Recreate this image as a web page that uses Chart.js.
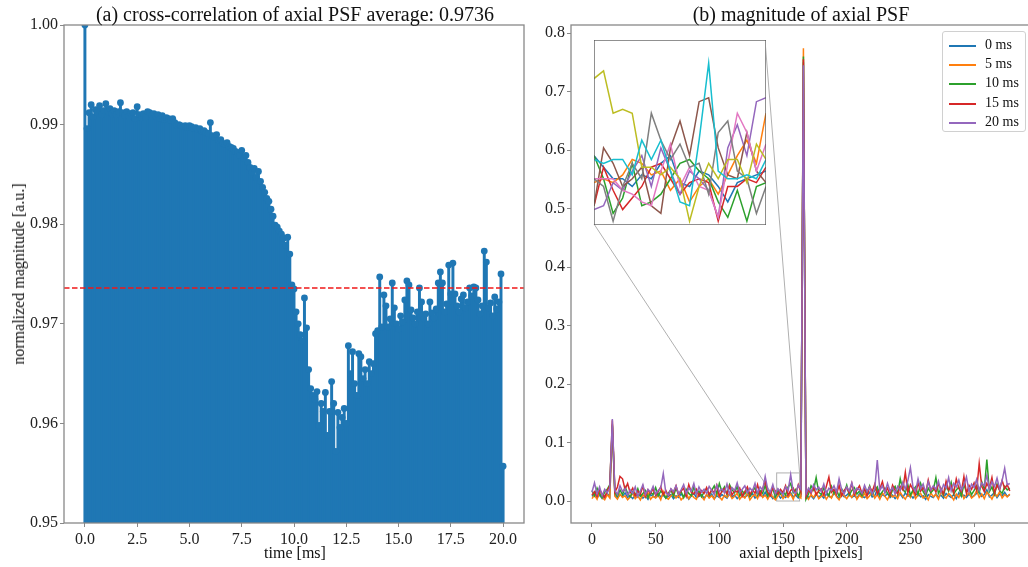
<!DOCTYPE html>
<html>
<head>
<meta charset="utf-8">
<script src="https://cdn.jsdelivr.net/npm/chart.js@4.4.1/dist/chart.umd.min.js"></script>
<style>
  body { margin: 0; width: 1028px; height: 567px; overflow: hidden; position: relative; background: #fff; font-family: 'Liberation Serif', serif; color: #111; }
  canvas { position: absolute; }
  .txt { position: absolute; white-space: nowrap; transform: translate(-50%, -50%); }
  #legend { position: absolute; left: 942px; top: 31px; width: 82px; height: 99px; border: 1px solid #d0d0d0; border-radius: 3px; background: rgba(255,255,255,0.85); font-size: 14px; }
  .leg-row { position: absolute; left: 0; height: 19px; width: 82px; }
  .leg-line { position: absolute; left: 6px; top: 9px; width: 27px; height: 2px; }
  .leg-text { position: absolute; left: 42px; top: 1px; }
</style>
</head>
<body>
<canvas id="xcorrChart" width="528" height="567" style="left:0;top:0"></canvas>
<canvas id="psfChart" width="528" height="567" style="left:512px;top:0"></canvas>
<canvas id="insetChart" width="172" height="185" style="left:594px;top:40px"></canvas>
<div class="txt" style="left:295px;top:14px;font-size:20px">(a) cross-correlation of axial PSF average: 0.9736</div>
<div class="txt" style="left:801px;top:14px;font-size:20px">(b) magnitude of axial PSF</div>
<div class="txt" style="left:295px;top:553px;font-size:16px">time [ms]</div>
<div class="txt" style="left:19px;top:274px;font-size:16px;transform:translate(-50%,-50%) rotate(-90deg)">normalized magnitude [a.u.]</div>
<div class="txt" style="left:801px;top:553px;font-size:16px">axial depth [pixels]</div>
<div id="legend"></div>
<script>
// (a) cross-correlation, one value every 0.1 ms from 0 to 20 ms
const timeStep = 0.1;
const xcorr = [
  1.0000, 0.9896, 0.9912, 0.9920, 0.9908, 0.9915, 0.9912, 0.9919, 0.9910, 0.9914,
  0.9921, 0.9913, 0.9916, 0.9911, 0.9914, 0.9910, 0.9913, 0.9922, 0.9912, 0.9909,
  0.9913, 0.9908, 0.9911, 0.9912, 0.9906, 0.9918, 0.9910, 0.9907, 0.9911, 0.9908,
  0.9913, 0.9912, 0.9909, 0.9911, 0.9908, 0.9910, 0.9906, 0.9909, 0.9905, 0.9907,
  0.9906, 0.9904, 0.9906, 0.9902, 0.9899, 0.9900, 0.9899, 0.9898, 0.9899, 0.9897,
  0.9899, 0.9898, 0.9896, 0.9897, 0.9895, 0.9896, 0.9893, 0.9894, 0.9892, 0.9891,
  0.9902, 0.9889, 0.9887, 0.9890, 0.9884, 0.9885, 0.9881, 0.9880, 0.9882, 0.9878,
  0.9877, 0.9876, 0.9873, 0.9872, 0.9869, 0.9874, 0.9866, 0.9869, 0.9862, 0.9857,
  0.9852, 0.9856, 0.9847, 0.9853, 0.9843, 0.9837, 0.9832, 0.9826, 0.9823, 0.9815,
  0.9808, 0.9799, 0.9797, 0.9793, 0.9790, 0.9786, 0.9779, 0.9787, 0.9770, 0.9739,
  0.9735, 0.9712, 0.9700, 0.9689, 0.9683, 0.9726, 0.9696, 0.9654, 0.9635, 0.9628,
  0.9624, 0.9632, 0.9598, 0.9620, 0.9612, 0.9631, 0.9588, 0.9612, 0.9642, 0.9620,
  0.9572, 0.9611, 0.9596, 0.9606, 0.9615, 0.9600, 0.9678, 0.9650, 0.9672, 0.9640,
  0.9628, 0.9670, 0.9667, 0.9645, 0.9654, 0.9640, 0.9662, 0.9650, 0.9660, 0.9690,
  0.9693, 0.9747, 0.9697, 0.9729, 0.9718, 0.9697, 0.9705, 0.9741, 0.9716, 0.9700,
  0.9695, 0.9708, 0.9702, 0.9724, 0.9743, 0.9739, 0.9714, 0.9706, 0.9700, 0.9712,
  0.9736, 0.9722, 0.9705, 0.9710, 0.9700, 0.9722, 0.9711, 0.9706, 0.9715, 0.9741,
  0.9752, 0.9741, 0.9712, 0.9720, 0.9759, 0.9730, 0.9761, 0.9730, 0.9718, 0.9712,
  0.9725, 0.9729, 0.9716, 0.9722, 0.9736, 0.9728, 0.9737, 0.9736, 0.9724, 0.9710,
  0.9718, 0.9773, 0.9762, 0.9716, 0.9721, 0.9708, 0.9727, 0.9715, 0.9722, 0.9750,
  0.9557
];
const xcorrMean = 0.9736;

// (b) magnitude of axial PSF, one value every 2 pixels from 0 to 328
const depthStep = 2;
const psf0ms = [
  0.008, 0.012, 0.006, 0.010, 0.004, 0.009, 0.013, 0.007, 0.130, 0.010, 0.005, 0.011, 0.008, 0.014, 0.006,
  0.009, 0.004, 0.010, 0.007, 0.012, 0.005, 0.009, 0.003, 0.011, 0.008, 0.006, 0.013, 0.007, 0.010, 0.005,
  0.008, 0.011, 0.004, 0.009, 0.006, 0.012, 0.007, 0.010, 0.003, 0.009, 0.013, 0.006, 0.008, 0.011, 0.005,
  0.010, 0.007, 0.012, 0.004, 0.009, 0.006, 0.011, 0.008, 0.005, 0.013, 0.007, 0.010, 0.004, 0.009, 0.012,
  0.006, 0.010, 0.008, 0.013, 0.005, 0.009, 0.011, 0.007, 0.015, 0.006, 0.010, 0.004, 0.008, 0.012, 0.005,
  0.009, 0.006, 0.011, 0.014, 0.007, 0.010, 0.005, 0.008, 0.750, 0.012, 0.006, 0.009, 0.004, 0.011, 0.007,
  0.010, 0.005, 0.012, 0.008, 0.006, 0.013, 0.009, 0.004, 0.011, 0.007, 0.010, 0.014, 0.006, 0.009, 0.005,
  0.012, 0.008, 0.006, 0.010, 0.015, 0.007, 0.009, 0.020, 0.005, 0.011, 0.008, 0.013, 0.006, 0.010, 0.004,
  0.009, 0.012, 0.006, 0.014, 0.008, 0.011, 0.005, 0.010, 0.013, 0.007, 0.009, 0.003, 0.011, 0.008, 0.006,
  0.012, 0.007, 0.010, 0.005, 0.013, 0.009, 0.006, 0.011, 0.004, 0.014, 0.008, 0.010, 0.006, 0.012, 0.007,
  0.009, 0.013, 0.016, 0.008, 0.011, 0.019, 0.007, 0.010, 0.014, 0.006, 0.012, 0.009, 0.015, 0.008, 0.011
];
const psf5ms = [
  0.004, 0.010, 0.003, 0.015, 0.006, 0.002, 0.011, 0.005, 0.132, 0.008, 0.003, 0.012, 0.006, 0.009, 0.002,
  0.007, 0.013, 0.004, 0.009, 0.002, 0.011, 0.006, 0.014, 0.003, 0.008, 0.005, 0.010, 0.002, 0.016, 0.006,
  0.003, 0.009, 0.012, 0.005, 0.010, 0.002, 0.007, 0.013, 0.004, 0.011, 0.006, 0.003, 0.014, 0.008, 0.002,
  0.012, 0.005, 0.009, 0.003, 0.015, 0.007, 0.002, 0.010, 0.006, 0.012, 0.004, 0.008, 0.013, 0.003, 0.009,
  0.005, 0.014, 0.002, 0.008, 0.011, 0.004, 0.016, 0.006, 0.010, 0.003, 0.012, 0.007, 0.002, 0.009, 0.013,
  0.004, 0.010, 0.006, 0.012, 0.003, 0.015, 0.008, 0.005, 0.774, 0.009, 0.003, 0.011, 0.006, 0.014, 0.004,
  0.008, 0.012, 0.003, 0.010, 0.005, 0.016, 0.007, 0.002, 0.013, 0.009, 0.004, 0.011, 0.006, 0.015, 0.003,
  0.010, 0.006, 0.013, 0.004, 0.009, 0.017, 0.005, 0.011, 0.003, 0.014, 0.008, 0.002, 0.012, 0.007, 0.010,
  0.004, 0.015, 0.008, 0.003, 0.012, 0.006, 0.018, 0.004, 0.010, 0.013, 0.005, 0.009, 0.002, 0.014, 0.007,
  0.011, 0.003, 0.016, 0.008, 0.005, 0.013, 0.009, 0.002, 0.012, 0.006, 0.017, 0.004, 0.010, 0.014, 0.005,
  0.009, 0.018, 0.006, 0.012, 0.004, 0.015, 0.010, 0.003, 0.013, 0.008, 0.016, 0.005, 0.011, 0.007, 0.012
];
const psf10ms = [
  0.018, 0.009, 0.022, 0.012, 0.006, 0.015, 0.020, 0.028, 0.128, 0.014, 0.008, 0.019, 0.011, 0.024, 0.013,
  0.007, 0.016, 0.010, 0.021, 0.008, 0.013, 0.018, 0.006, 0.015, 0.011, 0.023, 0.009, 0.017, 0.012, 0.005,
  0.014, 0.019, 0.008, 0.022, 0.011, 0.016, 0.006, 0.020, 0.013, 0.009, 0.024, 0.012, 0.017, 0.007, 0.015,
  0.021, 0.010, 0.018, 0.026, 0.012, 0.030, 0.016, 0.024, 0.011, 0.028, 0.019, 0.014, 0.025, 0.009, 0.017,
  0.012, 0.020, 0.008, 0.016, 0.023, 0.010, 0.018, 0.013, 0.027, 0.009, 0.015, 0.021, 0.007, 0.019, 0.012,
  0.016, 0.010, 0.024, 0.030, 0.014, 0.020, 0.008, 0.018, 0.760, 0.003, 0.012, 0.026, 0.019, 0.040, 0.015,
  0.011, 0.022, 0.016, 0.009, 0.025, 0.013, 0.019, 0.008, 0.021, 0.014, 0.027, 0.010, 0.018, 0.023, 0.012,
  0.017, 0.009, 0.020, 0.014, 0.026, 0.011, 0.018, 0.024, 0.010, 0.016, 0.022, 0.013, 0.008, 0.019, 0.025,
  0.012, 0.038, 0.020, 0.015, 0.028, 0.010, 0.018, 0.024, 0.011, 0.030, 0.016, 0.009, 0.022, 0.014, 0.019,
  0.040, 0.013, 0.021, 0.010, 0.026, 0.017, 0.032, 0.012, 0.019, 0.024, 0.009, 0.028, 0.015, 0.021, 0.011,
  0.018, 0.026, 0.014, 0.033, 0.020, 0.071, 0.016, 0.024, 0.011, 0.029, 0.018, 0.013, 0.025, 0.019, 0.022
];
const psf15ms = [
  0.010, 0.016, 0.008, 0.020, 0.012, 0.006, 0.018, 0.026, 0.138, 0.015, 0.024, 0.042, 0.038, 0.020, 0.030,
  0.014, 0.022, 0.009, 0.017, 0.012, 0.025, 0.008, 0.019, 0.013, 0.021, 0.010, 0.016, 0.024, 0.011, 0.018,
  0.009, 0.020, 0.014, 0.026, 0.011, 0.017, 0.022, 0.008, 0.028, 0.015, 0.012, 0.020, 0.009, 0.018, 0.013,
  0.023, 0.011, 0.019, 0.014, 0.027, 0.009, 0.016, 0.021, 0.012, 0.025, 0.010, 0.018, 0.015, 0.022, 0.008,
  0.016, 0.024, 0.011, 0.019, 0.013, 0.028, 0.010, 0.021, 0.034, 0.015, 0.009, 0.023, 0.017, 0.012, 0.020,
  0.014, 0.026, 0.010, 0.018, 0.022, 0.012, 0.028, 0.016, 0.755, 0.008, 0.019, 0.013, 0.024, 0.011, 0.017,
  0.021, 0.010, 0.025, 0.041, 0.015, 0.020, 0.012, 0.027, 0.009, 0.018, 0.023, 0.014, 0.030, 0.011, 0.019,
  0.026, 0.013, 0.020, 0.009, 0.024, 0.016, 0.029, 0.012, 0.021, 0.033, 0.015, 0.022, 0.010, 0.027, 0.018,
  0.012, 0.025, 0.019, 0.049, 0.014, 0.028, 0.020, 0.011, 0.031, 0.017, 0.023, 0.013, 0.036, 0.018, 0.024,
  0.015, 0.029, 0.021, 0.012, 0.034, 0.019, 0.026, 0.014, 0.038, 0.022, 0.016, 0.042, 0.013, 0.027, 0.020,
  0.031, 0.018, 0.064, 0.025, 0.016, 0.030, 0.022, 0.040, 0.014, 0.027, 0.019, 0.035, 0.021, 0.028, 0.017
];
const psf20ms = [
  0.015, 0.031, 0.012, 0.024, 0.009, 0.020, 0.014, 0.022, 0.140, 0.018, 0.011, 0.026, 0.016, 0.021, 0.010,
  0.019, 0.013, 0.024, 0.008, 0.017, 0.028, 0.011, 0.020, 0.015, 0.025, 0.012, 0.018, 0.022, 0.047, 0.014,
  0.010, 0.021, 0.016, 0.026, 0.012, 0.019, 0.028, 0.013, 0.022, 0.017, 0.030, 0.011, 0.024, 0.015, 0.020,
  0.013, 0.025, 0.018, 0.011, 0.027, 0.016, 0.021, 0.014, 0.029, 0.012, 0.023, 0.018, 0.031, 0.015, 0.020,
  0.026, 0.014, 0.022, 0.017, 0.030, 0.013, 0.024, 0.019, 0.042, 0.020, 0.015, 0.028, 0.012, 0.021, 0.016,
  0.011, 0.024, 0.018, 0.045, 0.016, 0.013, 0.027, 0.020, 0.745, 0.012, 0.022, 0.015, 0.028, 0.019, 0.024,
  0.016, 0.029, 0.013, 0.022, 0.018, 0.026, 0.015, 0.038, 0.020, 0.012, 0.024, 0.017, 0.031, 0.014, 0.022,
  0.019, 0.013, 0.027, 0.016, 0.024, 0.012, 0.021, 0.070, 0.018, 0.026, 0.014, 0.030, 0.017, 0.023, 0.012,
  0.025, 0.018, 0.032, 0.020, 0.035, 0.057, 0.024, 0.016, 0.038, 0.021, 0.029, 0.014, 0.033, 0.019, 0.026,
  0.020, 0.034, 0.015, 0.028, 0.022, 0.040, 0.017, 0.030, 0.024, 0.036, 0.019, 0.027, 0.041, 0.016, 0.029,
  0.023, 0.037, 0.018, 0.031, 0.026, 0.044, 0.020, 0.033, 0.025, 0.039, 0.021, 0.035, 0.056, 0.028, 0.030
];
const psfLabels = ['0 ms', '5 ms', '10 ms', '15 ms', '20 ms'];
const psfSeries = [psf0ms, psf5ms, psf10ms, psf15ms, psf20ms];

// zoomed inset: depth 145..163, y 0..0.048
const insetStart = 145;
const insetEnd = 163;
const insetTop = 0.048;
const insetA = [0.018, 0.015, 0.012, 0.012, 0.010, 0.013, 0.012, 0.016, 0.018, 0.011, 0.010, 0.014, 0.013, 0.010, 0.006, 0.011, 0.012, 0.013, 0.014];
const insetB = [0.011, 0.012, 0.011, 0.013, 0.017, 0.016, 0.013, 0.014, 0.009, 0.012, 0.006, 0.010, 0.012, 0.008, 0.013, 0.018, 0.022, 0.016, 0.029];
const insetC = [0.018, 0.012, 0.003, 0.007, 0.016, 0.005, 0.006, 0.008, 0.012, 0.016, 0.017, 0.014, 0.012, 0.006, 0.002, 0.009, 0.001, 0.010, 0.011];
const insetD = [0.005, 0.015, 0.009, 0.004, 0.007, 0.010, 0.015, 0.016, 0.012, 0.008, 0.011, 0.012, 0.011, 0.001, 0.010, 0.010, 0.012, 0.011, 0.015];
const insetE = [0.004, 0.005, 0.011, 0.009, 0.014, 0.018, 0.010, 0.020, 0.014, 0.008, 0.014, 0.012, 0.009, 0.002, 0.020, 0.026, 0.018, 0.032, 0.033];
const insetF = [0.005, 0.020, 0.016, 0.010, 0.012, 0.015, 0.005, 0.003, 0.020, 0.027, 0.018, 0.032, 0.033, 0.020, 0.013, 0.012, 0.024, 0.014, 0.011];
const insetG = [0.012, 0.012, 0.012, 0.009, 0.008, 0.006, 0.005, 0.014, 0.021, 0.010, 0.015, 0.010, 0.009, 0.002, 0.016, 0.029, 0.024, 0.014, 0.021];
const insetH = [0.012, 0.010, 0.001, 0.010, 0.016, 0.012, 0.029, 0.022, 0.017, 0.021, 0.015, 0.016, 0.008, 0.024, 0.027, 0.014, 0.012, 0.003, 0.010];
const insetI = [0.038, 0.040, 0.029, 0.030, 0.029, 0.015, 0.015, 0.013, 0.015, 0.012, 0.001, 0.010, 0.016, 0.012, 0.017, 0.017, 0.011, 0.021, 0.017];
const insetJ = [0.017, 0.016, 0.017, 0.017, 0.013, 0.022, 0.017, 0.022, 0.014, 0.006, 0.005, 0.022, 0.042, 0.014, 0.012, 0.012, 0.013, 0.012, 0.017];
const insetSeries = [insetA, insetB, insetC, insetD, insetE, insetF, insetG, insetH, insetI, insetJ];

const tab10 = ['#1f77b4', '#ff7f0e', '#2ca02c', '#d62728', '#9467bd', '#8c564b', '#e377c2', '#7f7f7f', '#bcbd22', '#17becf'];
const spineColor = '#888';

Chart.defaults.font.family = "'Liberation Serif', serif";
Chart.defaults.font.size = 16;
Chart.defaults.color = '#222';
Chart.defaults.animation = false;

// draw all four spines round the plot area
const spines = {
  id: 'spines',
  afterDraw(chart, args, opts) {
    const a = chart.chartArea;
    const ctx = chart.ctx;
    ctx.save();
    ctx.strokeStyle = opts.color || spineColor;
    ctx.lineWidth = 1.3;
    ctx.strokeRect(a.left, a.top, a.right - a.left, a.bottom - a.top);
    ctx.restore();
  }
};

const tickGrid = { display: true, drawOnChartArea: false, drawTicks: true, tickLength: 4, color: spineColor, lineWidth: 1 };

// ---- (a) ----
const meanLine = {
  id: 'meanLine',
  afterDatasetsDraw(chart) {
    const y = chart.scales.y.getPixelForValue(xcorrMean);
    const a = chart.chartArea;
    const ctx = chart.ctx;
    ctx.save();
    ctx.strokeStyle = '#f01818';
    ctx.lineWidth = 1.5;
    ctx.setLineDash([5.5, 2.5]);
    ctx.beginPath();
    ctx.moveTo(a.left, y);
    ctx.lineTo(a.right, y);
    ctx.stroke();
    ctx.restore();
  }
};

const xcorrPoints = xcorr.map((v, i) => ({ x: i * timeStep, y: v }));

new Chart(document.getElementById('xcorrChart'), {
  type: 'bar',
  data: {
    datasets: [
      { type: 'line', data: xcorrPoints, showLine: false, pointRadius: 3.4, pointBackgroundColor: '#1f77b4', pointBorderWidth: 0, order: 0 },
      { type: 'bar', data: xcorrPoints, backgroundColor: '#1f77b4', barThickness: 2.3, borderWidth: 0, order: 1 }
    ]
  },
  options: {
    responsive: false,
    layout: { padding: { top: 25, right: 2, left: 0, bottom: 0 } },
    plugins: { legend: { display: false }, tooltip: { enabled: false } },
    scales: {
      x: {
        type: 'linear', min: -1, max: 21, offset: false,
        grid: { ...tickGrid, offset: false },
        border: { display: false },
        ticks: { stepSize: 2.5, includeBounds: false, autoSkip: false, maxRotation: 0, padding: 3, callback: v => v.toFixed(1) },
        afterFit: s => { s.height = 44; }
      },
      y: {
        min: 0.95, max: 1.0,
        grid: tickGrid,
        border: { display: false },
        ticks: { stepSize: 0.01, includeBounds: false, padding: 2, callback: v => v.toFixed(2) },
        afterFit: s => { s.width = 64; }
      }
    }
  },
  plugins: [meanLine, spines]
});

// ---- (b) ----
const insetBox = { left: 594, top: 40, right: 765, bottom: 224 };
const psfCanvasLeft = 512;

const insetMarks = {
  id: 'insetMarks',
  beforeDatasetsDraw(chart) {
    const xs = chart.scales.x, ys = chart.scales.y;
    const x0 = xs.getPixelForValue(insetStart), x1 = xs.getPixelForValue(insetEnd);
    const y0 = ys.getPixelForValue(0), y1 = ys.getPixelForValue(insetTop);
    const ctx = chart.ctx;
    ctx.save();
    ctx.strokeStyle = '#b0b0b0';
    ctx.lineWidth = 1;
    ctx.strokeRect(x0, y1, x1 - x0, y0 - y1);
    ctx.beginPath();
    ctx.moveTo(insetBox.left - psfCanvasLeft, insetBox.bottom);
    ctx.lineTo(x0, y0);
    ctx.moveTo(insetBox.right - psfCanvasLeft, insetBox.top);
    ctx.lineTo(x1, y1);
    ctx.stroke();
    ctx.restore();
  }
};

new Chart(document.getElementById('psfChart'), {
  type: 'line',
  data: {
    datasets: psfSeries.map((s, i) => ({
      label: psfLabels[i],
      data: s.map((v, j) => ({ x: j * depthStep, y: v })),
      borderColor: tab10[i],
      borderWidth: 1.5,
      pointRadius: 0,
      tension: 0,
      order: psfSeries.length - 1 - i
    }))
  },
  options: {
    responsive: false,
    layout: { padding: { top: 25, right: 8, left: 0, bottom: 0 } },
    plugins: { legend: { display: false }, tooltip: { enabled: false } },
    scales: {
      x: {
        type: 'linear', min: -16.45, max: 345.45,
        grid: tickGrid,
        border: { display: false },
        ticks: { stepSize: 50, includeBounds: false, autoSkip: false, maxRotation: 0, padding: 3, callback: v => String(v) },
        afterFit: s => { s.height = 44; }
      },
      y: {
        min: -0.0376, max: 0.8137,
        grid: tickGrid,
        border: { display: false },
        ticks: { stepSize: 0.1, includeBounds: false, padding: 2, callback: v => v.toFixed(1) },
        afterFit: s => { s.width = 59; }
      }
    }
  },
  plugins: [insetMarks, spines]
});

// inset
const insetDepth = insetA.map((_, i) => insetStart + i);
new Chart(document.getElementById('insetChart'), {
  type: 'line',
  data: {
    datasets: insetSeries.map((s, i) => ({
      data: s.map((v, j) => ({ x: insetDepth[j], y: v })),
      borderColor: tab10[i],
      borderWidth: 1.5,
      pointRadius: 0,
      tension: 0,
      order: insetSeries.length - 1 - i
    }))
  },
  options: {
    responsive: false,
    layout: { padding: 0 },
    plugins: { legend: { display: false }, tooltip: { enabled: false }, spines: { color: '#555' } },
    scales: {
      x: { type: 'linear', display: false, min: insetStart, max: insetEnd },
      y: { display: false, min: 0, max: insetTop }
    }
  },
  plugins: [{
    id: 'insetBg',
    beforeDraw(chart) {
      chart.ctx.save();
      chart.ctx.fillStyle = '#fff';
      chart.ctx.fillRect(0, 0, chart.width, chart.height);
      chart.ctx.restore();
    }
  }, spines]
});

// legend
const legend = document.getElementById('legend');
psfLabels.forEach((name, i) => {
  const row = document.createElement('div');
  row.className = 'leg-row';
  row.style.top = (4 + i * 19.2) + 'px';
  row.innerHTML = `<div class="leg-line" style="background:${tab10[i]}"></div><div class="leg-text">${name}</div>`;
  legend.appendChild(row);
});
</script>
</body>
</html>
